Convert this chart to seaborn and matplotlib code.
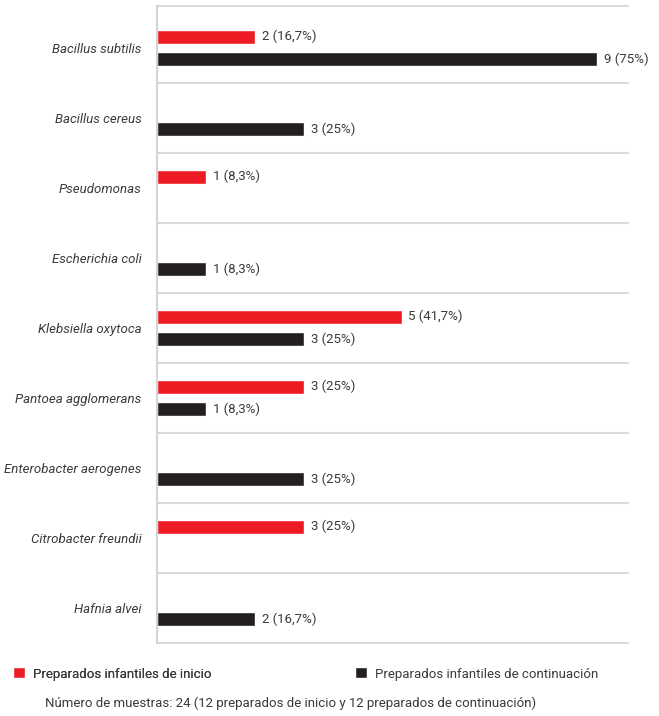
import matplotlib
matplotlib.use("Agg")
import matplotlib.pyplot as plt
import seaborn as sns
import pandas as pd
import numpy as np

categories = ["Bacillus subtilis", "Bacillus cereus", "Pseudomonas", "Escherichia coli",
              "Klebsiella oxytoca", "Pantoea agglomerans", "Enterobacter aerogenes",
              "Citrobacter freundii", "Hafnia alvei"]
inicio = [2, None, 1, None, 5, 3, None, 3, None]
continuacion = [9, 3, None, 1, 3, 1, 3, None, 2]
series_names = ["Preparados infantiles de inicio", "Preparados infantiles de continuación"]
pct_labels = {1: "8,3%", 2: "16,7%", 3: "25%", 5: "41,7%", 9: "75%"}
footnote = "Número de muestras: 24 (12 preparados de inicio y 12 preparados de continuación)"

colors = {series_names[0]: "#ED1C24", series_names[1]: "#231F20"}

rows = []
for c, a, b in zip(categories, inicio, continuacion):
    if a is not None:
        rows.append((c, series_names[0], a))
    if b is not None:
        rows.append((c, series_names[1], b))
df = pd.DataFrame(rows, columns=["cat", "serie", "n"])

sns.set_style("white")
fam = ["Roboto", "DejaVu Sans"]
plt.rcParams["font.family"] = fam
txt_color = "#3a3a3a"
fs = 9.5

fig = plt.figure(figsize=(6.59, 7.16), dpi=100)
ax = fig.add_axes([157 / 659, (716 - 643) / 716, (628 - 157) / 659, 637 / 716])

sns.barplot(data=df, y="cat", x="n", hue="serie", order=categories,
            hue_order=series_names, palette=colors, orient="h",
            width=0.64, gap=0.38, dodge=True, ax=ax, legend=True, saturation=1)

ax.set_xlim(0, 9.63)
ax.set_ylim(8.5, -0.6)
ax.set_xlabel("")
ax.set_ylabel("")
ax.set_xticks([])
ax.tick_params(axis="y", length=0, pad=11)
for lab in ax.get_yticklabels():
    lab.set_fontstyle("italic")
    lab.set_fontsize(fs)
    lab.set_color(txt_color)

for s in ["top", "right", "bottom"]:
    ax.spines[s].set_visible(False)
ax.spines["left"].set_color("#d4d4d4")
ax.spines["left"].set_linewidth(1.5)

for yb in [-0.6] + [i + 0.5 for i in range(9)]:
    ax.axhline(yb, color="#d9d9d9", lw=1.5, zorder=0, clip_on=False)

for cont in ax.containers:
    labs = [f"{int(round(b.get_width()))} ({pct_labels[int(round(b.get_width()))]})" for b in cont]
    ax.bar_label(cont, labels=labs, padding=5, fontsize=fs, color=txt_color, clip_on=False)

handles, labels = ax.get_legend_handles_labels()
ax.get_legend().remove()
leg1 = fig.legend([handles[0]], [labels[0]], loc="center left", bbox_to_anchor=(1 / 659, 1 - 674 / 716),
                  frameon=False, fontsize=fs, handlelength=0.9, handleheight=0.9,
                  handletextpad=0.6, labelcolor=txt_color)
leg2 = fig.legend([handles[1]], [labels[1]], loc="center left", bbox_to_anchor=(343 / 659, 1 - 674 / 716),
                  frameon=False, fontsize=fs, handlelength=0.9, handleheight=0.9,
                  handletextpad=0.6, labelcolor=txt_color)
fig.add_artist(leg1)

fig.text(45 / 659, 1 - 703 / 716, footnote, fontsize=fs, color=txt_color, va="center", ha="left")

fig.savefig("out.png", dpi=100)
